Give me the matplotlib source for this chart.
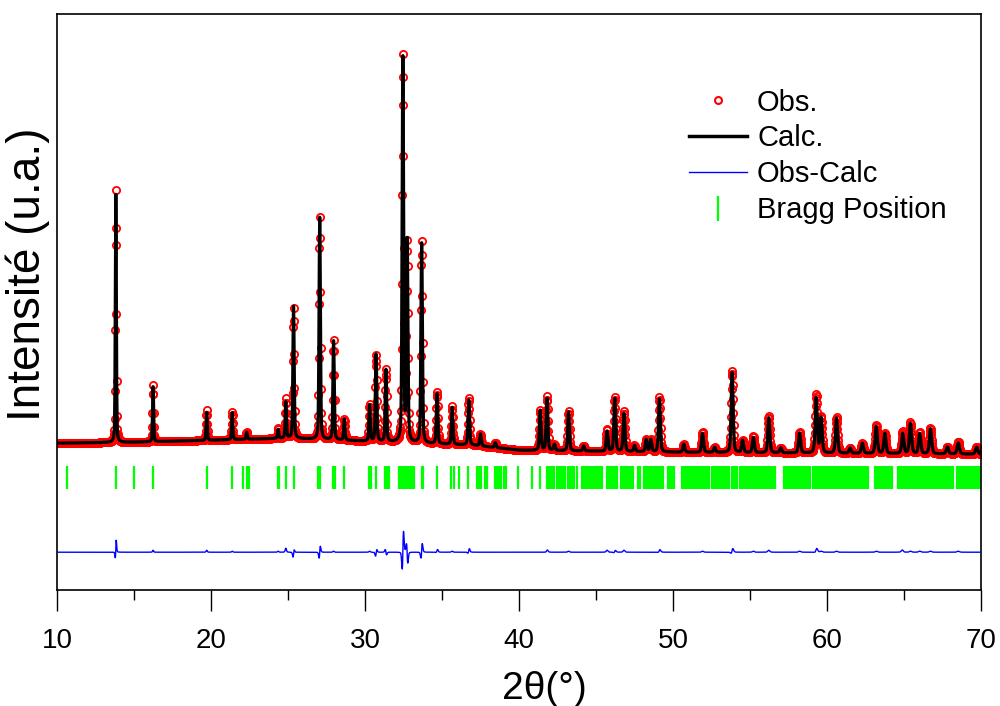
import numpy as np
import matplotlib.pyplot as plt
from matplotlib.lines import Line2D
from matplotlib.ticker import MultipleLocator

plt.rcParams['font.family'] = ['Liberation Sans', 'DejaVu Sans']

# --- scan grid and refined background (arbitrary units) ---
scan_start, scan_stop, scan_step = 10.0, 70.0, 0.02

bg_pos = [10, 15, 20, 25, 30, 35, 37, 40, 45, 50, 60, 70]
bg_val = [147, 148, 150, 152, 149, 146, 145, 140, 139, 138, 137, 136]

# --- reflections: position (2theta), calculated height, observed height, obs shift ---
peak_pos = [13.82, 16.24, 19.72, 21.38, 22.32, 24.36, 24.86, 25.36, 27.06, 27.96,
            28.66, 30.30, 30.72, 31.36, 32.46, 32.74, 33.68, 34.68, 35.66, 36.74,
            37.50, 38.46, 41.38, 41.82, 42.30, 43.22, 44.20, 45.72, 46.22, 46.82,
            47.50, 48.26, 48.56, 49.12, 50.70, 51.92, 52.70, 53.84, 54.52, 55.22,
            56.22, 57.00, 58.22, 59.30, 59.62, 60.62, 61.50, 62.30, 63.20, 63.76,
            64.92, 65.42, 66.02, 66.72, 67.82, 68.52, 69.72]
calc_height = [248, 55, 28, 27, 7, 9, 36, 132, 222, 99,
               21, 36, 87, 72, 384, 200, 200, 50, 37, 45,
               12, 5, 40, 52, 6, 39, 5, 20, 53, 38,
               6, 12, 12, 53, 8, 19, 5, 80, 12, 15,
               35, 5, 20, 55, 35, 35, 5, 10, 27, 20,
               20, 30, 20, 25, 7, 11, 7]
obs_height = [253, 57, 30, 28, 7, 10, 40, 130, 222, 100,
              21, 37, 86, 72, 387, 198, 202, 52, 38, 47,
              12, 5, 40, 54, 6, 40, 5, 22, 54, 40,
              6, 12, 12, 55, 8, 20, 5, 82, 12, 16,
              37, 5, 21, 58, 36, 36, 5, 10, 28, 20,
              22, 31, 21, 26, 7, 12, 7]
obs_shift = [0.002, 0, 0, 0, 0, 0, 0, 0.002, 0.002, 0,
             0, 0, 0.003, -0.003, 0.004, -0.004, 0.003, 0.002, 0, 0.004,
             0, 0, 0, 0.001, 0, 0, 0, 0, 0.002, 0,
             0, 0, 0, 0.002, 0, 0, 0, 0.003, 0, 0,
             0, 0, 0, 0.003, 0, 0, 0, 0, 0, 0,
             -0.003, 0, 0, 0, 0, 0, 0]

# --- Bragg positions ---
bragg_pos = [10.62, 13.82, 15.02, 16.24, 19.72, 21.38, 22.08, 22.32, 22.46, 24.32,
             24.40, 24.88, 25.38, 26.92, 27.05, 27.90, 28.02, 28.65, 30.28, 30.42,
             30.72, 31.30, 31.42, 31.58, 32.20, 32.32, 32.45, 32.58, 32.70, 32.82,
             32.95, 33.08, 33.20, 33.68, 33.76, 34.70, 35.60, 35.78, 36.10, 36.72,
             37.30, 37.42, 37.55, 37.80, 37.92, 38.42, 38.55, 38.70, 38.85, 39.00,
             39.15, 39.95, 40.82, 41.38,
             41.80, 41.92, 42.05, 42.18, 42.30, 42.44, 42.57, 42.70, 42.83, 42.98,
             43.20, 43.33, 43.46, 43.60, 43.74,
             44.10, 44.22, 44.35, 44.48, 44.61, 44.74, 44.87, 45.00, 45.13, 45.26, 45.38,
             45.72, 45.85, 45.98, 46.12, 46.25, 46.38,
             46.62, 46.75, 46.88, 47.02, 47.12, 47.30, 47.40, 47.70, 47.85,
             48.10, 48.22, 48.35, 48.48, 48.62, 48.75, 48.88, 49.00, 49.12, 49.25, 49.38,
             49.70, 49.82, 49.95, 50.08,
             50.60, 50.72, 50.85, 50.97, 51.10, 51.22, 51.35, 51.48, 51.60, 51.72,
             51.85, 51.98, 52.10, 52.22, 52.35,
             52.52, 52.64, 52.77, 52.90, 53.02, 53.15, 53.28, 53.40, 53.53, 53.66,
             53.80, 53.92, 54.05, 54.18,
             54.32, 54.45, 54.58, 54.70, 54.83, 54.96, 55.08, 55.21, 55.34, 55.47,
             55.60, 55.72, 55.85, 55.98, 56.10, 56.23, 56.36, 56.48, 56.60,
             57.20, 57.32, 57.45, 57.58, 57.70, 57.83, 57.96, 58.10, 58.22, 58.35,
             58.48, 58.62, 58.75, 58.88,
             59.10, 59.22, 59.35, 59.48, 59.60, 59.72, 59.85, 59.98, 60.10, 60.23,
             60.36, 60.48, 60.61, 60.74, 60.86, 60.99, 61.12, 61.24, 61.37, 61.50,
             61.62, 61.75, 61.88, 62.00, 62.13, 62.26, 62.38, 62.51, 62.64,
             63.10, 63.22, 63.35, 63.48, 63.60, 63.73, 63.86, 63.98, 64.11, 64.24,
             64.60, 64.72, 64.85, 64.98, 65.10, 65.23, 65.36, 65.48, 65.61, 65.74,
             65.86, 65.99, 66.12, 66.24, 66.37, 66.50, 66.62, 66.75, 66.88, 67.00,
             67.13, 67.26, 67.38, 67.51, 67.64, 67.76, 67.89, 68.02, 68.15,
             68.42, 68.55, 68.68, 68.80, 68.93, 69.06, 69.18, 69.31, 69.44, 69.56,
             69.69, 69.82, 69.95]

diff_offset = 38
bragg_low, bragg_high = 101, 124


def pseudo_voigt(x, x0, h, w, eta=0.35):
    g = np.exp(-4 * np.log(2) * ((x - x0) / w) ** 2)
    lor = 1 / (1 + 4 * ((x - x0) / w) ** 2)
    return h * (eta * lor + (1 - eta) * g)


tt = np.arange(scan_start, scan_stop + scan_step / 2, scan_step)
background = np.interp(tt, bg_pos, bg_val)

calc = background.copy()
obs = background.copy()
for p, hc, ho, dp in zip(peak_pos, calc_height, obs_height, obs_shift):
    w = 0.07 + 0.0018 * (p - 10)  # instrumental broadening
    calc += pseudo_voigt(tt, p, hc, w)
    obs += pseudo_voigt(tt, p + dp, ho, w)
diff = obs - calc + diff_offset

fig = plt.figure(figsize=(10, 7.06), dpi=100)
ax = fig.add_axes([0.057, 0.164, 0.924, 0.816])

ax.plot(tt, obs, 'o', mfc='none', mec='red', ms=5.2, mew=1.3, zorder=2)
ax.plot(tt, calc, color='black', lw=2.3, zorder=3)
ax.plot(tt, diff, color='blue', lw=1.0, zorder=3)
ax.vlines(bragg_pos, bragg_low, bragg_high, colors='#00ff00', lw=1.6, zorder=2)

ax.set_xlim(10, 70)
ax.set_ylim(0, 576)
ax.xaxis.set_major_locator(MultipleLocator(10))
ax.xaxis.set_minor_locator(MultipleLocator(5))
ax.tick_params(axis='x', which='major', direction='out', length=15, width=1,
               labelsize=20, pad=12)
ax.tick_params(axis='x', which='minor', direction='out', length=7.5, width=1)
ax.set_yticks([])
for s in ax.spines.values():
    s.set_linewidth(1.2)

fig.text(0.028, 1 - 274 / 706, 'Intensité (u.a.)', rotation=90,
         ha='center', va='center', fontsize=33)
fig.text(0.544, 1 - 689 / 706, '2θ(°)', ha='center', va='center', fontsize=28)

handles = [
    Line2D([], [], marker='o', ls='none', mfc='none', mec='red', ms=5, mew=1.5),
    Line2D([], [], color='black', lw=2.5),
    Line2D([], [], color='blue', lw=1),
    Line2D([], [], marker='|', ls='none', color='#00ff00', ms=18, mew=1.6),
]
ax.legend(handles, ['Obs.', 'Calc.', 'Obs-Calc', 'Bragg Position'],
          loc='upper left', bbox_to_anchor=(0.674, 1 - 74 / 706),
          bbox_transform=fig.transFigure, frameon=False, fontsize=21,
          handlelength=2.0, handletextpad=0.35, labelspacing=0.27, borderpad=0)

fig.savefig('out.png', dpi=100)
